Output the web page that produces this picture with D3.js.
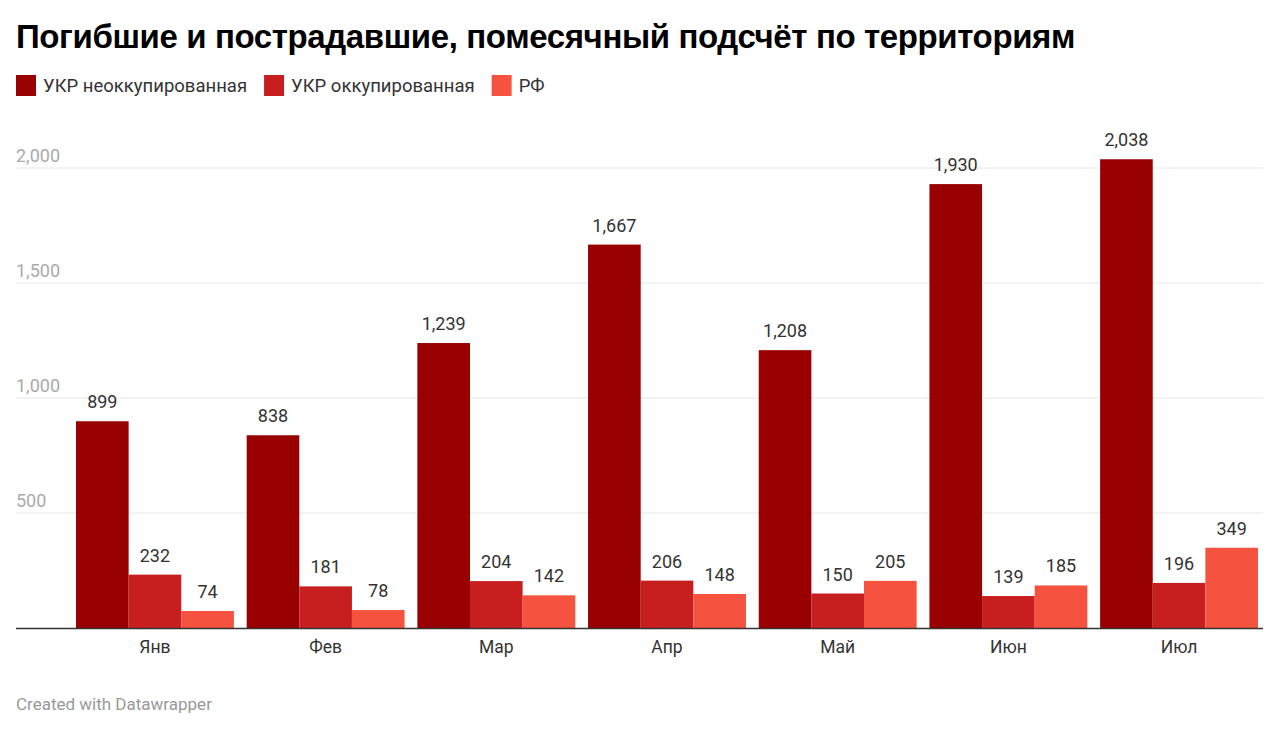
<!DOCTYPE html>
<html>
<head>
<meta charset="utf-8">
<script src="https://cdn.jsdelivr.net/npm/d3@7"></script>
<style>
  body { margin: 0; background: #fff; }
  svg text { font-family: Roboto, "Noto Sans", sans-serif; }
</style>
</head>
<body>
<div id="chart"></div>
<script>
var months = ["Янв", "Фев", "Мар", "Апр", "Май", "Июн", "Июл"];
var seriesNames = ["УКР неоккупированная", "УКР оккупированная", "РФ"];
var unoccupied = [899, 838, 1239, 1667, 1208, 1930, 2038];
var occupied = [232, 181, 204, 206, 150, 139, 196];
var russia = [74, 78, 142, 148, 205, 185, 349];
var yTicks = [500, 1000, 1500, 2000];
var colors = ["#990000", "#c71f1f", "#f5523f"];

var W = 1280, H = 730;
var svg = d3.select("#chart").append("svg")
    .attr("width", W)
    .attr("height", H);

// title
svg.append("text")
  .attr("x", 16)
  .attr("y", 48)
  .style("font-family", "'Liberation Sans', Arial, sans-serif")
  .style("font-weight", "bold")
  .style("font-size", "33px")
  .style("letter-spacing", "-0.38px")
  .attr("fill", "#000")
  .text("Погибшие и пострадавшие, помесячный подсчёт по территориям");

// legend
var lx = 16;
seriesNames.forEach(function(name, i) {
  var g = svg.append("g").attr("transform", "translate(" + lx + ",75)");
  g.append("rect").attr("width", 20).attr("height", 21).attr("fill", colors[i]);
  var t = g.append("text")
    .attr("x", 27)
    .attr("y", 17)
    .style("font-size", "18.5px")
    .attr("fill", "#333")
    .text(name);
  lx += 27 + t.node().getComputedTextLength() + 17;
});

var margin = {left: 16, right: 16},
    plotLeft = 69.6, plotRight = 1264.4;

var y = d3.scaleLinear()
  .domain([0, 2000])
  .range([628, 168]);

var x0 = d3.scaleBand()
  .domain(months)
  .range([plotLeft, plotRight])
  .paddingInner(0.075)
  .paddingOuter(0.0375);

var x1 = d3.scaleBand()
  .domain(d3.range(3))
  .range([0, x0.bandwidth()]);

// gridlines
var grid = svg.append("g");
grid.selectAll("line")
  .data(yTicks)
  .enter().append("line")
    .attr("x1", margin.left)
    .attr("x2", W - 17)
    .attr("y1", function(d) { return y(d); })
    .attr("y2", function(d) { return y(d); })
    .attr("stroke", "#e6e6e6")
    .attr("stroke-width", 1);
grid.selectAll("text")
  .data(yTicks)
  .enter().append("text")
    .attr("x", margin.left)
    .attr("y", function(d) { return y(d) - 6; })
    .style("font-size", "18px")
    .attr("fill", "#aaa")
    .text(function(d) { return d3.format(",")(d); });

var data = months.map(function(m, i) {
  return {month: m, values: [unoccupied[i], occupied[i], russia[i]]};
});

var groups = svg.selectAll(".grp")
  .data(data)
  .enter().append("g")
    .attr("class", "grp")
    .attr("transform", function(d) { return "translate(" + x0(d.month) + ",0)"; });

groups.selectAll("rect")
  .data(function(d) { return d.values; })
  .enter().append("rect")
    .attr("x", function(d, i) { return x1(i); })
    .attr("y", function(d) { return y(d); })
    .attr("width", x1.bandwidth())
    .attr("height", function(d) { return y(0) - y(d); })
    .attr("fill", function(d, i) { return colors[i]; });

groups.selectAll(".label")
  .data(function(d) { return d.values; })
  .enter().append("text")
    .attr("class", "label")
    .attr("x", function(d, i) { return x1(i) + x1.bandwidth() / 2; })
    .attr("y", function(d) { return y(d) - 13; })
    .attr("text-anchor", "middle")
    .style("font-size", "18px")
    .attr("fill", "#333")
    .text(function(d) { return d3.format(",")(d); });

// baseline
svg.append("line")
  .attr("x1", margin.left)
  .attr("x2", W - 17)
  .attr("y1", y(0) + 0.5)
  .attr("y2", y(0) + 0.5)
  .attr("stroke", "#333")
  .attr("stroke-width", 1.5);

// x axis labels
var xAxis = svg.append("g")
  .attr("transform", "translate(0," + (y(0) + 1) + ")")
  .call(d3.axisBottom(x0).tickSize(0).tickPadding(12));
xAxis.select(".domain").remove();
xAxis.selectAll("text")
  .style("font-size", "17.5px")
  .style("font-family", "Roboto, sans-serif")
  .attr("fill", "#333");

// footer
svg.append("text")
  .attr("x", 16)
  .attr("y", 710)
  .style("font-size", "17px")
  .attr("fill", "#999")
  .text("Created with Datawrapper");
</script>
</body>
</html>
